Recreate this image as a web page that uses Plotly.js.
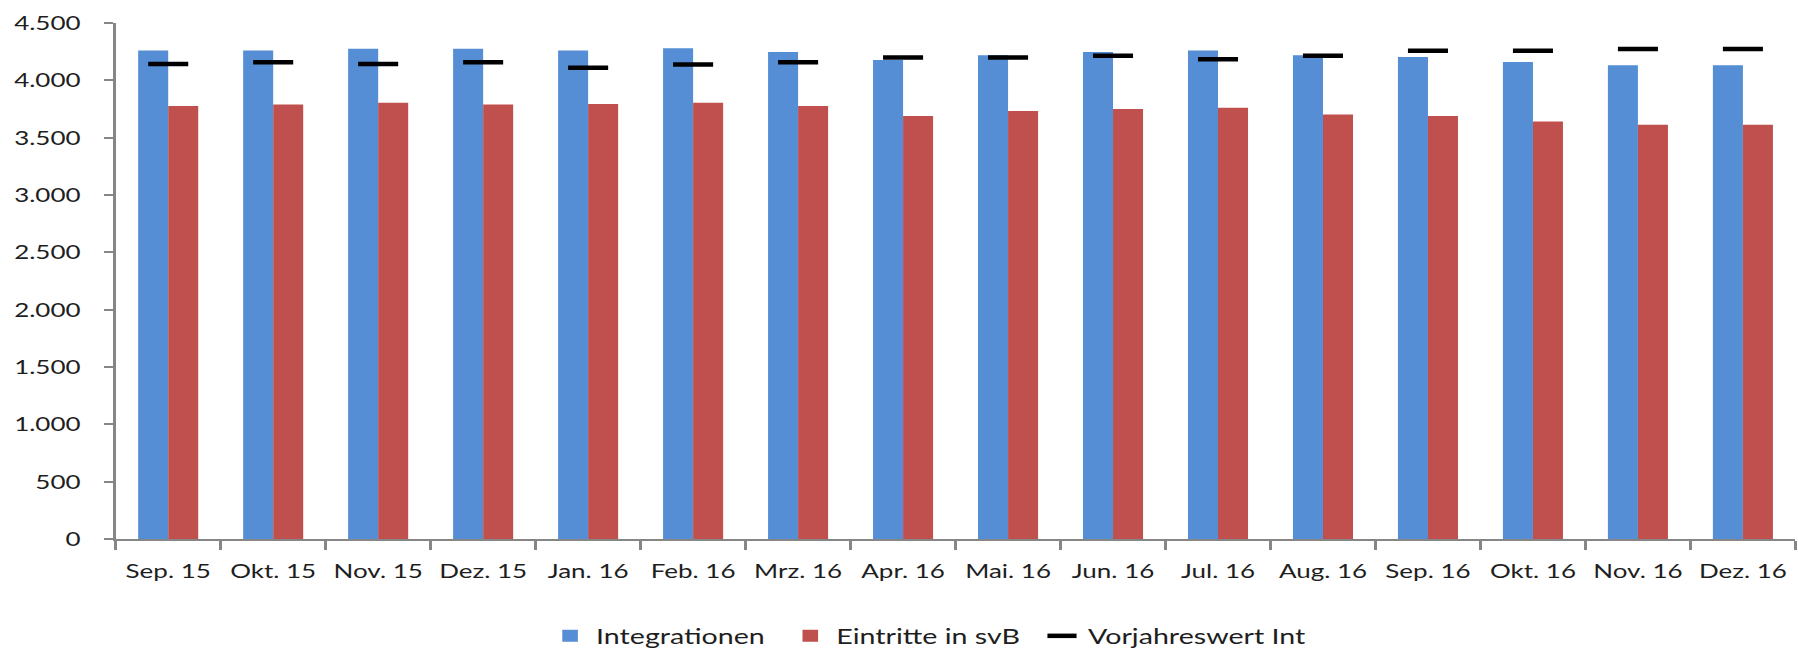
<!DOCTYPE html>
<html>
<head>
<meta charset="utf-8">
<script src="https://cdn.plot.ly/plotly-3.0.1.min.js"></script>
<style>
  html, body { margin: 0; padding: 0; background: #ffffff; overflow: hidden; }
  #chart { width: 1383px; height: 652px; transform: scaleX(1.30007); transform-origin: 0 0; }
</style>
</head>
<body>
<div id="chart"></div>
<script>
// Data
const categories = ['Sep. 15','Okt. 15','Nov. 15','Dez. 15','Jan. 16','Feb. 16','Mrz. 16','Apr. 16','Mai. 16','Jun. 16','Jul. 16','Aug. 16','Sep. 16','Okt. 16','Nov. 16','Dez. 16'];
const integrationen = [4261,4261,4276,4276,4261,4279,4247,4177,4218,4247,4261,4218,4203,4160,4131,4131];
const eintritteSvB = [3776,3790,3805,3790,3793,3805,3776,3689,3732,3749,3761,3703,3689,3642,3613,3613];
const vorjahreswertInt = [4142,4157,4142,4157,4110,4139,4157,4200,4200,4215,4183,4215,4258,4258,4273,4273];
const yTickVals = [0,500,1000,1500,2000,2500,3000,3500,4000,4500];

const FONT = 'Lato, "Open Sans", sans-serif';
const TXT = '#1e1e1e';

const traces = [
  {
    type: 'bar', name: 'Integrationen', x: categories, y: integrationen, legend: 'legend',
    marker: { color: '#558ED5', line: { width: 0 } }
  },
  {
    type: 'bar', name: 'Eintritte in svB', x: categories, y: eintritteSvB, legend: 'legend2',
    marker: { color: '#C0504D', line: { width: 0 } }
  },
  {
    type: 'scatter', mode: 'markers', name: 'Vorjahreswert Int', x: categories, y: vorjahreswertInt, legend: 'legend3',
    marker: { symbol: 'line-ew', size: 22, color: '#000000', line: { color: '#000000', width: 4.5 } }
  }
];

function legendAt(xp) {
  return {
    orientation: 'h', xref: 'container', yref: 'container',
    x: xp, xanchor: 'left', y: 0.0245, yanchor: 'middle',
    font: { family: FONT, size: 22, color: TXT },
    bgcolor: 'rgba(0,0,0,0)', borderwidth: 0
  };
}

const layout = {
  width: 1383, height: 652,
  paper_bgcolor: '#ffffff', plot_bgcolor: '#ffffff',
  separators: ',.',
  margin: { l: 89, r: 2, t: 23, b: 113, pad: 0, autoexpand: false },
  barmode: 'group', bargap: 0.428, bargroupgap: 0,
  font: { family: FONT, size: 20, color: TXT },
  showlegend: true,
  legend: legendAt(0.3026),
  legend2: legendAt(0.4362),
  legend3: legendAt(0.5762),
  xaxis: {
    type: 'category', range: [-0.5, categories.length - 0.5],
    showgrid: false, zeroline: false,
    showline: true, linecolor: '#868686', linewidth: 2,
    ticks: 'outside', tickson: 'boundaries', ticklen: 9, tickwidth: 2, tickcolor: '#868686',
    tickangle: 0, ticklabelstandoff: 13,
    tickfont: { family: FONT, size: 20, color: TXT },
    automargin: false, fixedrange: true
  },
  yaxis: {
    range: [0, 4500], tickvals: yTickVals, tickformat: ',d',
    showgrid: false, zeroline: false,
    showline: true, linecolor: '#868686', linewidth: 2,
    ticks: 'outside', ticklen: 7, tickwidth: 2, tickcolor: '#868686',
    ticklabelstandoff: 14,
    tickfont: { family: FONT, size: 20, color: TXT },
    automargin: false, fixedrange: true
  }
};

Plotly.newPlot('chart', traces, layout, { displayModeBar: false, responsive: false, staticPlot: true });
</script>
</body>
</html>
